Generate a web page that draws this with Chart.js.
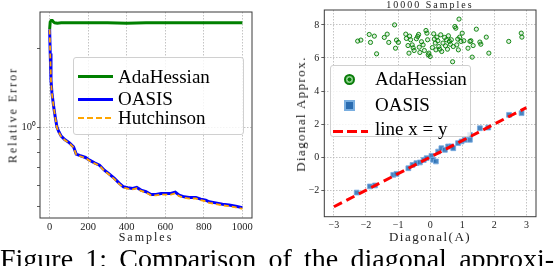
<!DOCTYPE html>
<html>
<head>
<meta charset="utf-8">
<script src="https://cdn.jsdelivr.net/npm/chart.js@4.4.0/dist/chart.umd.min.js"></script>
<style>
html, body { margin: 0; padding: 0; background: #fff; }
body { width: 554px; height: 266px; position: relative; overflow: hidden; font-family: "Liberation Serif", serif; color: #000; }
canvas { position: absolute; top: 0; }
.t { position: absolute; white-space: nowrap; color: #1a1a1a; }
.rot { position: absolute; white-space: nowrap; color: #1a1a1a; transform: translate(-50%, -50%) rotate(-90deg); }
.legend { position: absolute; background: rgba(255,255,255,0.82); border: 1px solid #d0d0d0; border-radius: 3px; box-sizing: border-box; }
.lg { position: absolute; font-size: 19px; line-height: 19px; white-space: nowrap; }
.sw { position: absolute; }
#caption { position: absolute; left: 0; top: 245.1px; width: 554px; font-size: 28px; line-height: 28px; text-align: justify; text-align-last: justify; white-space: nowrap; }
</style>
</head>
<body>
<canvas id="left" width="270" height="245" style="left:0"></canvas>
<canvas id="right" width="274" height="245" style="left:280px"></canvas>

<!-- axis texts -->
<div class="rot" style="left:12.5px;top:115px;font-size:12px;letter-spacing:2px">Relative Error</div>
<div class="t" style="left:146px;top:231px;font-size:12px;line-height:12px;letter-spacing:2px;transform:translateX(-50%)">Samples</div>
<div class="rot" style="left:300.5px;top:113.5px;font-size:13px;letter-spacing:1.4px">Diagonal Approx.</div>
<div class="t" style="left:430px;top:229.7px;font-size:13px;line-height:13px;letter-spacing:1.5px;transform:translateX(-50%)">Diagonal(A)</div>
<div class="t" style="left:430px;top:-0.1px;font-size:10px;line-height:10px;letter-spacing:2px;transform:translateX(-50%)">10000 Samples</div>

<!-- left legend -->
<div class="legend" style="left:73px;top:57px;width:171px;height:78px"></div>
<div class="sw" style="left:78px;top:74.5px;width:35px;height:3px;background:#008000"></div>
<div class="lg" style="left:118px;top:66.8px">AdaHessian</div>
<div class="sw" style="left:78px;top:97.5px;width:35px;height:3px;background:#0000ff"></div>
<div class="lg" style="left:118px;top:89.1px">OASIS</div>
<div class="sw" style="left:78px;top:117px;width:35px;height:2px;background:repeating-linear-gradient(90deg,#ffa500 0 6px,transparent 6px 9px)"></div>
<div class="lg" style="left:118px;top:108.1px">Hutchinson</div>

<!-- right legend -->
<div class="legend" style="left:330px;top:65px;width:141px;height:72px"></div>
<div class="sw" style="left:343.5px;top:73.5px;width:11px;height:11px;box-sizing:border-box;border-radius:50%;border:2px solid #0a7d0a;background:radial-gradient(circle,#0a7d0a 0 35%,#8ccf8c 45% 100%)"></div>
<div class="lg" style="left:375px;top:69.1px">AdaHessian</div>
<div class="sw" style="left:343.5px;top:99.5px;width:11px;height:11px;box-sizing:border-box;border:2px solid #79aee0;background:#2b6cb0"></div>
<div class="lg" style="left:375px;top:94.8px">OASIS</div>
<div class="sw" style="left:333px;top:129.5px;width:35px;height:3.5px;background:repeating-linear-gradient(90deg,#ff0000 0 10px,transparent 10px 14px)"></div>
<div class="lg" style="left:375px;top:119.1px">line x = y</div>

<div id="caption">Figure 1: Comparison of the diagonal approxi-</div>

<script>
// left panel: relative error vs samples
const samples = [0,3,7,12,21,29,38,48,60,78,103,124,138,155,186,207,233,259,284,310,336,362,383,405,431,452,474,500,526,552,578,603,629,652,672,698,724,759,784,810,828,862,897,931,966,1000];
const oasisErr = [2.36,1.91,1.51,1.35,1.195,1.094,1.0,0.96,0.924,0.897,0.871,0.841,0.789,0.78,0.766,0.748,0.731,0.716,0.685,0.662,0.637,0.61,0.592,0.587,0.583,0.589,0.575,0.567,0.553,0.553,0.558,0.558,0.558,0.565,0.55,0.542,0.539,0.539,0.531,0.526,0.519,0.514,0.508,0.504,0.499,0.493];
const hutchErr = [2.36,1.90,1.50,1.34,1.19,1.09,0.995,0.955,0.92,0.893,0.867,0.837,0.785,0.776,0.762,0.744,0.727,0.712,0.681,0.658,0.633,0.606,0.588,0.583,0.579,0.584,0.571,0.563,0.549,0.549,0.553,0.553,0.553,0.559,0.545,0.537,0.534,0.534,0.526,0.521,0.514,0.509,0.503,0.499,0.494,0.488];
const adaSamples = [0,3,8,14,20,26,40,60,100,200,300,400,500,600,700,800,900,1000];
const adaErr = [2.36,2.52,2.55,2.55,2.52,2.50,2.49,2.50,2.50,2.50,2.50,2.49,2.50,2.50,2.50,2.50,2.50,2.50];
const leftXTicks = [0,200,400,600,800,1000];
const leftYTicks = [0.5,0.6,0.7,0.8,0.9,1,2];

// right panel: diagonal approximation vs true diagonal
const adaDiagX = [-2.26,-2.16,-1.90,-1.86,-1.74,-1.67,-1.43,-1.34,-1.29,-1.11,-1.08,-1.05,-0.99,-0.76,-0.74,-0.69,-0.66,-0.64,-0.61,-0.56,-0.53,-0.50,-0.43,-0.39,-0.36,-0.34,-0.32,-0.27,-0.22,-0.18,-0.13,-0.10,-0.08,-0.06,-0.04,0.00,0.07,0.11,0.13,0.16,0.18,0.21,0.24,0.27,0.30,0.33,0.36,0.40,0.45,0.48,0.51,0.54,0.57,0.60,0.63,0.66,0.70,0.72,0.77,0.80,0.83,0.86,0.88,0.90,0.92,0.96,1.00,1.05,1.18,1.24,1.27,1.31,1.34,1.44,1.55,1.58,1.75,1.83,2.45,2.84,2.86];
const adaDiagY = [7.02,7.08,7.42,6.94,7.32,6.25,7.24,7.44,6.94,8.00,6.59,7.08,6.94,7.44,7.18,6.75,6.29,7.32,7.10,6.79,6.61,6.45,7.16,7.30,7.42,6.65,6.33,6.98,6.79,6.45,7.66,7.50,7.10,6.19,6.29,6.09,6.63,7.46,7.14,6.90,6.49,7.26,7.04,6.69,6.53,7.40,6.39,6.90,7.24,6.73,7.10,6.53,7.34,7.00,6.83,7.10,5.77,6.69,7.90,7.80,6.79,7.14,6.49,8.35,7.26,7.00,7.50,7.04,6.59,7.00,7.04,6.05,6.75,7.74,6.96,6.83,7.26,6.29,7.00,7.50,7.26];
const oasisDiagX = [-2.29,-1.88,-1.72,-1.15,-1.05,-0.68,-0.55,-0.43,-0.32,-0.20,-0.11,0.04,0.09,0.18,0.25,0.35,0.46,0.56,0.66,0.72,0.87,0.98,1.08,1.24,1.24,1.55,1.81,2.46,2.85];
const oasisDiagY = [-2.14,-1.77,-1.71,-1.07,-1.01,-0.67,-0.47,-0.36,-0.32,-0.17,-0.06,0.08,-0.16,-0.26,0.34,0.54,0.44,0.65,0.65,0.54,0.85,0.95,1.05,1.05,1.35,1.75,1.79,2.56,2.66];
const refLineX = [-3,3];
const refLineY = [-3,3];
const rightXTicks = [-3,-2,-1,0,1,2,3];
const rightYTicks = [-2,0,2,4,6,8];

Chart.defaults.font.family = '"Liberation Serif", serif';
Chart.defaults.color = '#222';

const frame = {
  id: 'frame',
  afterDatasetsDraw(chart) {
    const a = chart.chartArea, c = chart.ctx;
    c.save();
    c.strokeStyle = '#3a3a3a';
    c.lineWidth = 1;
    c.setLineDash([]);
    c.strokeRect(a.left, a.top, a.right - a.left, a.bottom - a.top);
    c.restore();
  }
};

const zip = (xs, ys) => xs.map((x, i) => ({x: x, y: ys[i]}));
const minus = v => String(v).replace('-', '\u2212');
const gridGray = '#b5b5b5';

new Chart(document.getElementById('left'), {
  type: 'line',
  data: {
    datasets: [
      {label: 'Hutchinson', data: zip(samples, hutchErr), borderColor: '#ffa500', borderWidth: 1.8, borderDash: [5, 3], pointRadius: 0, order: 0},
      {label: 'OASIS', data: zip(samples, oasisErr), borderColor: '#0000ff', borderWidth: 3, pointRadius: 0, order: 1},
      {label: 'AdaHessian', data: zip(adaSamples, adaErr), borderColor: '#008000', borderWidth: 3, pointRadius: 0, order: 2}
    ]
  },
  options: {
    responsive: false,
    animation: false,
    devicePixelRatio: 1,
    layout: {padding: {top: 12, right: 18, left: 0, bottom: 0}},
    plugins: {legend: {display: false}, tooltip: {enabled: false}},
    scales: {
      x: {
        type: 'linear', min: -50, max: 1050,
        afterBuildTicks: s => { s.ticks = leftXTicks.map(v => ({value: v})); },
        afterFit: s => { s.height = 27; },
        grid: {color: gridGray, lineWidth: 0.8, drawTicks: false},
        border: {display: false, dash: [1.5, 1.5]},
        ticks: {padding: 3, maxRotation: 0, font: {size: 10.5}, callback: v => String(v)}
      },
      y: {
        type: 'logarithmic', min: 0.45, max: 2.75,
        afterBuildTicks: s => { s.ticks = leftYTicks.map(v => ({value: v})); },
        afterFit: s => { s.width = 40; },
        grid: {color: c => (c.tick && c.tick.value === 1) ? gridGray : 'rgba(0,0,0,0)', lineWidth: 0.8, tickColor: '#333', tickLength: 3},
        border: {display: false, dash: [1.5, 1.5]},
        ticks: {padding: 1, font: {size: 10.5}, callback: v => v === 1 ? '10\u2070' : ''}
      }
    }
  },
  plugins: [frame]
});

new Chart(document.getElementById('right'), {
  type: 'scatter',
  data: {
    datasets: [
      {label: 'line x = y', type: 'line', data: zip(refLineX, refLineY), borderColor: '#ff0000', borderWidth: 3, borderDash: [9, 5], pointRadius: 0, showLine: true, order: 0},
      {label: 'OASIS', data: zip(oasisDiagX, oasisDiagY), pointStyle: 'rect', pointRadius: 3.4, backgroundColor: 'rgba(40,110,180,0.85)', borderColor: 'rgba(120,170,225,0.8)', borderWidth: 1, order: 1},
      {label: 'AdaHessian', data: zip(adaDiagX, adaDiagY), pointStyle: 'circle', pointRadius: 2.1, backgroundColor: 'rgba(0,128,0,0.12)', borderColor: 'rgba(0,125,0,0.9)', borderWidth: 1, order: 2}
    ]
  },
  options: {
    responsive: false,
    animation: false,
    devicePixelRatio: 1,
    layout: {padding: {top: 10, right: 18, left: 0, bottom: 0}},
    plugins: {legend: {display: false}, tooltip: {enabled: false}},
    scales: {
      x: {
        type: 'linear', min: -3.3, max: 3.3,
        afterBuildTicks: s => { s.ticks = rightXTicks.map(v => ({value: v})); },
        afterFit: s => { s.height = 28.3; },
        grid: {color: gridGray, lineWidth: 0.8, drawTicks: false},
        border: {display: false, dash: [1.5, 1.5]},
        ticks: {padding: 3, maxRotation: 0, font: {size: 10}, callback: v => minus(v)}
      },
      y: {
        type: 'linear', min: -3.6, max: 8.9,
        afterBuildTicks: s => { s.ticks = rightYTicks.map(v => ({value: v})); },
        afterFit: s => { s.width = 44.3; },
        grid: {color: gridGray, lineWidth: 0.8, tickColor: '#333', tickLength: 3},
        border: {display: false, dash: [1.5, 1.5]},
        ticks: {padding: 2, font: {size: 10}, callback: v => minus(v)}
      }
    }
  },
  plugins: [frame]
});
</script>
</body>
</html>
